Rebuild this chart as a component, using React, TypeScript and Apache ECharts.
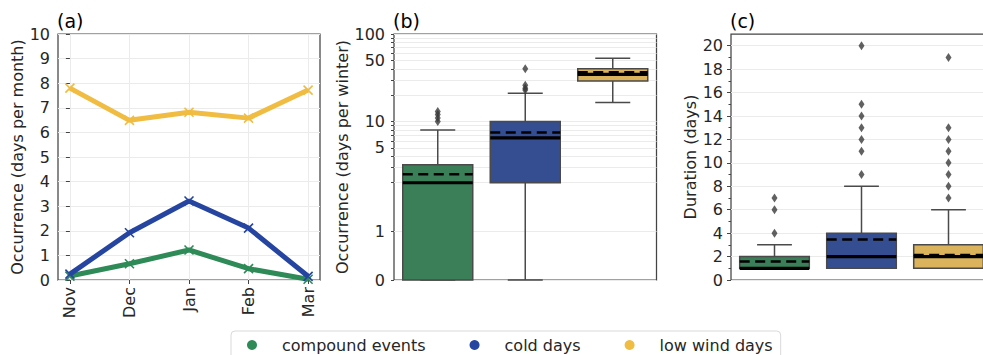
import React, { useEffect, useRef } from 'react';
import * as echarts from 'echarts';

const months = ['Nov', 'Dec', 'Jan', 'Feb', 'Mar'];
const seriesNames = ['compound events', 'cold days', 'low wind days'];
const compoundMonthly = [0.16, 0.66, 1.22, 0.46, 0.03];
const coldMonthly = [0.24, 1.92, 3.21, 2.11, 0.15];
const lowWindMonthly = [7.8, 6.49, 6.82, 6.58, 7.72];

// box stats: [min whisker, q1, median, q3, max whisker, mean]
const winterCompound = [0, 0, 2, 3.2, 8, 2.5];
const winterCold = [0, 2, 6.5, 10, 21, 7.5];
const winterLowWind = [16.5, 29, 34.5, 40, 53, 36.5];
const winterCompoundOutliers = [10, 11, 12, 13];
const winterColdOutliers = [23, 24, 26, 40];
const winterLowWindOutliers: number[] = [];
const winterTickLabels = [0, 1, 5, 10, 50, 100];
const winterGridValues = [0, 1, 2, 3, 4, 5, 6, 7, 8, 9, 10, 20, 30, 40, 50, 60, 70, 80, 90, 100];

const durCompound = [1, 1, 1, 2, 3, 1.57];
const durCold = [1, 1, 2, 4, 8, 3.45];
const durLowWind = [1, 1, 2, 3, 6, 2.13];
const durCompoundOutliers = [4, 6, 7];
const durColdOutliers = [9, 11, 12, 13, 14, 15, 20];
const durLowWindOutliers = [7, 8, 9, 10, 11, 12, 13, 19];
const durTickLabels = [0, 2, 4, 6, 8, 10, 12, 14, 16, 18, 20];

const lineColors = ['#2e8b57', '#2545a0', '#f0bc42'];
const boxColors = ['#3a7f57', '#344e91', '#dbb35c'];

const FONT = 'DejaVu Sans';
const TXT = '#262626';
const FRAME = '#444444';
const GRIDC = '#ebebeb';

// matplotlib symlog transform (linthresh 2, linscale 1, base 10)
const symlog = (v: number) => (v <= 2 ? v / 0.9 : 2 * (1 / 0.9 + Math.log10(v / 2)));

const makeBoxRender = (colors: string[]) => (params: any, api: any) => {
  const x = api.value(0);
  const mn = api.value(1), q1 = api.value(2), md = api.value(3), q3 = api.value(4), mx = api.value(5), mean = api.value(6);
  const cx = api.coord([x, q1])[0];
  const bw = api.size([1, 0])[0] * 0.8;
  const Y = (v: number) => api.coord([x, v])[1];
  const l = cx - bw / 2;
  const r = cx + bw / 2;
  const stroke = '#4a4a4a';
  return {
    type: 'group',
    children: [
      { type: 'line', shape: { x1: cx, y1: Y(q1), x2: cx, y2: Y(mn) }, style: { stroke, lineWidth: 1.5 } },
      { type: 'line', shape: { x1: cx, y1: Y(q3), x2: cx, y2: Y(mx) }, style: { stroke, lineWidth: 1.5 } },
      { type: 'line', shape: { x1: cx - bw / 4, y1: Y(mn), x2: cx + bw / 4, y2: Y(mn) }, style: { stroke, lineWidth: 1.5 } },
      { type: 'line', shape: { x1: cx - bw / 4, y1: Y(mx), x2: cx + bw / 4, y2: Y(mx) }, style: { stroke, lineWidth: 1.5 } },
      { type: 'rect', shape: { x: l, y: Y(q3), width: bw, height: Y(q1) - Y(q3) }, style: { fill: colors[params.dataIndex], stroke, lineWidth: 1.5 } },
      { type: 'line', shape: { x1: l, y1: Y(md), x2: r, y2: Y(md) }, style: { stroke: '#000', lineWidth: 3.2 } },
      { type: 'line', shape: { x1: l, y1: Y(mean), x2: r, y2: Y(mean) }, style: { stroke: '#000', lineWidth: 2.5, lineDash: [10, 5.5] } },
    ],
  };
};

const xSymbol = 'path://M0,0L10,10M10,0L0,10';

export default function App() {
  const ref = useRef<HTMLDivElement>(null);
  useEffect(() => {
    if (!ref.current) return;
    const chart = echarts.init(ref.current, undefined, { renderer: 'svg' });
    const monthly = [compoundMonthly, coldMonthly, lowWindMonthly];
    const winterBoxes = [winterCompound, winterCold, winterLowWind];
    const winterOut = [winterCompoundOutliers, winterColdOutliers, winterLowWindOutliers];
    const durBoxes = [durCompound, durCold, durLowWind];
    const durOut = [durCompoundOutliers, durColdOutliers, durLowWindOutliers];

    const axisLabelBase = { fontFamily: FONT, fontSize: 16, color: TXT };
    const nameStyle = { fontFamily: FONT, fontSize: 16, color: TXT };
    const winterLabelT = winterTickLabels.map(symlog);

    const option: any = {
      animation: false,
      backgroundColor: '#fff',
      title: [
        { text: '(a)', left: 57, top: 11, padding: 0, textStyle: { fontFamily: FONT, fontSize: 19, fontWeight: 'normal', color: '#000' } },
        { text: '(b)', left: 393, top: 11, padding: 0, textStyle: { fontFamily: FONT, fontSize: 19, fontWeight: 'normal', color: '#000' } },
        { text: '(c)', left: 730, top: 11, padding: 0, textStyle: { fontFamily: FONT, fontSize: 19, fontWeight: 'normal', color: '#000' } },
      ],
      legend: {
        left: 231,
        top: 331,
        orient: 'horizontal',
        padding: [6, 8, 6, 16],
        borderColor: '#d9d9d9',
        borderWidth: 1,
        borderRadius: 4,
        itemWidth: 10,
        itemHeight: 10,
        itemGap: 44,
        textStyle: { fontFamily: FONT, fontSize: 16, color: TXT, padding: [0, 0, 0, 20] },
        data: seriesNames.map((n, i) => ({ name: n, icon: 'circle', itemStyle: { color: lineColors[i], borderWidth: 0 } })),
      },
      grid: [
        { left: 58, top: 34, width: 262, height: 246, show: true, borderColor: FRAME, borderWidth: 1.25, outerBoundsMode: 'none' },
        { left: 394, top: 34, width: 262.5, height: 246, show: true, borderColor: FRAME, borderWidth: 1.25, outerBoundsMode: 'none' },
        { left: 731, top: 34, width: 261, height: 246, show: true, borderColor: FRAME, borderWidth: 1.25, outerBoundsMode: 'none' },
      ],
      xAxis: [
        {
          type: 'value', gridIndex: 0, min: -0.2, max: 4.2,
          axisLine: { show: false },
          axisTick: { show: true, customValues: [0, 1, 2, 3, 4], length: 4, lineStyle: { color: FRAME } },
          axisLabel: { ...axisLabelBase, customValues: [0, 1, 2, 3, 4], rotate: 90, margin: 7, formatter: (v: number) => months[Math.round(v)] },
          splitLine: { show: true, lineStyle: { color: GRIDC, width: 1 } },
        },
        {
          type: 'category', gridIndex: 1, data: seriesNames,
          axisLine: { show: false }, axisTick: { show: false }, axisLabel: { show: false }, splitLine: { show: false },
        },
        {
          type: 'category', gridIndex: 2, data: seriesNames,
          axisLine: { show: false }, axisTick: { show: false }, axisLabel: { show: false }, splitLine: { show: false },
        },
      ],
      yAxis: [
        {
          type: 'value', gridIndex: 0, min: 0, max: 10, interval: 1,
          name: 'Occurrence (days per month)', nameLocation: 'middle', nameGap: 32, nameTextStyle: nameStyle,
          axisLine: { show: false },
          axisTick: { show: true, length: 4, lineStyle: { color: FRAME } },
          axisLabel: { ...axisLabelBase, margin: 8 },
          splitLine: { show: true, lineStyle: { color: GRIDC, width: 1 } },
        },
        {
          type: 'value', gridIndex: 1, min: 0, max: symlog(100),
          name: 'Occurrence (days per winter)', nameLocation: 'middle', nameGap: 41, nameTextStyle: nameStyle,
          axisLine: { show: false },
          axisTick: { show: true, customValues: winterGridValues.map(symlog), length: 3, lineStyle: { color: FRAME } },
          axisLabel: {
            ...axisLabelBase, margin: 9, customValues: winterLabelT,
            formatter: (v: number) => {
              let best = 0;
              winterLabelT.forEach((t, i) => { if (Math.abs(t - v) < Math.abs(winterLabelT[best] - v)) best = i; });
              return String(winterTickLabels[best]);
            },
          },
          splitLine: { show: true, lineStyle: { color: GRIDC, width: 1 } },
        },
        {
          type: 'value', gridIndex: 2, min: 0, max: 21, interval: 2,
          name: 'Duration (days)', nameLocation: 'middle', nameGap: 32, nameTextStyle: nameStyle,
          axisLine: { show: false },
          axisTick: { show: true, customValues: durTickLabels, length: 4, lineStyle: { color: FRAME } },
          minorTick: { show: true, splitNumber: 2, length: 2.5, lineStyle: { color: FRAME } },
          axisLabel: { ...axisLabelBase, margin: 8, customValues: durTickLabels },
          splitLine: { show: true, lineStyle: { color: GRIDC, width: 1 } },
        },
      ],
      series: [
        ...monthly.map((vals, i) => ({
          name: seriesNames[i],
          type: 'line',
          xAxisIndex: 0, yAxisIndex: 0,
          data: vals.map((v, j) => [j, v]),
          lineStyle: { color: lineColors[i], width: 5 },
          itemStyle: { color: lineColors[i], borderColor: lineColors[i], borderWidth: 1.6 },
          symbol: xSymbol,
          symbolSize: 9,
          z: 3 + i,
        })),
        {
          type: 'custom', xAxisIndex: 1, yAxisIndex: 1,
          renderItem: makeBoxRender(boxColors),
          encode: { x: 0, y: [1, 2, 3, 4, 5] },
          data: winterBoxes.map((b, i) => [i, ...b.map(symlog)]),
          z: 3,
        },
        {
          type: 'scatter', xAxisIndex: 1, yAxisIndex: 1,
          symbol: 'diamond', symbolSize: [6, 9],
          itemStyle: { color: '#3a3a3a' },
          data: winterOut.flatMap((arr, i) => arr.map((v) => [i, symlog(v)])),
          z: 4,
        },
        {
          type: 'custom', xAxisIndex: 2, yAxisIndex: 2,
          renderItem: makeBoxRender(boxColors),
          encode: { x: 0, y: [1, 2, 3, 4, 5] },
          data: durBoxes.map((b, i) => [i, ...b]),
          z: 3,
        },
        {
          type: 'scatter', xAxisIndex: 2, yAxisIndex: 2,
          symbol: 'diamond', symbolSize: [6, 9],
          itemStyle: { color: '#3a3a3a' },
          data: durOut.flatMap((arr, i) => arr.map((v) => [i, v])),
          z: 4,
        },
      ],
    };
    chart.setOption(option);
    return () => chart.dispose();
  }, []);

  return (
    <div style={{ position: 'fixed', left: 0, top: 0, width: 983, height: 355, overflow: 'hidden', background: '#fff' }}>
      <div ref={ref} style={{ width: 1000, height: 372 }} />
    </div>
  );
}
